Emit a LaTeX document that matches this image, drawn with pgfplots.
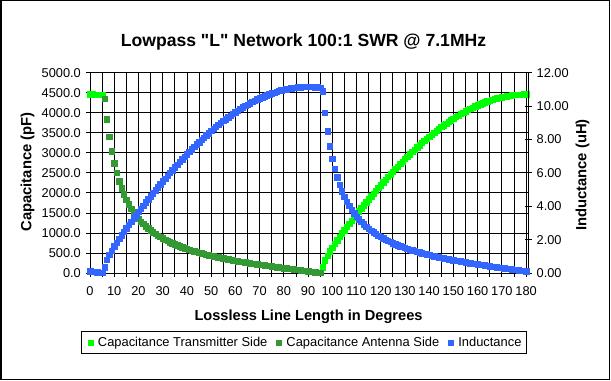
\documentclass[border=0pt]{standalone}
\usepackage{fontspec}
\setmainfont{Liberation Sans}
\newfontfamily\plainfont{Liberation Sans}
\usepackage{pgfplots}
\pgfplotsset{compat=1.18}
\definecolor{txgreen}{RGB}{0,255,0}
\definecolor{antgreen}{RGB}{51,153,51}
\definecolor{indblue}{RGB}{51,102,255}
\newcommand{\tickfont}{\fontsize{12.8bp}{14bp}\selectfont}
\begin{document}
\begin{tikzpicture}
\path[use as bounding box] (-90bp,-108bp) rectangle (521bp,273bp);
\draw[black, line width=1.5bp] (-89bp,-106.5bp) rectangle (519.5bp,272.5bp);
\begin{axis}[
  at={(0bp,0bp)}, anchor=south west,
  scale only axis, width=438bp, height=200.3bp,
  xmin=0, xmax=180.8, ymin=0, ymax=5000,
  xtick={0,10,...,180}, minor xtick={5,15,...,175},
  ytick={0,500,...,5000},
  grid=both,
  major grid style={black, line width=0.8bp},
  minor grid style={black, line width=0.8bp},
  axis line style={black, line width=0.8bp},
  every tick/.style={black, line width=0.8bp},
  tick align=outside, major tick length=4bp, minor tick length=4bp,
  xtick pos=bottom, ytick pos=left,
  /pgf/number format/assume math mode=true,
  /pgf/number format/1000 sep={},
  tick label style={font=\tickfont},
  yticklabel style={/pgf/number format/fixed, /pgf/number format/fixed zerofill, /pgf/number format/precision=1, inner sep=0pt, xshift=-5bp},
  xticklabel style={inner sep=0pt, yshift=-9.5bp},
]
\addplot[only marks, mark=square*, mark size=2.7bp, color=txgreen] coordinates {
(0,4460.6)(1,4459.8)(2,4457.8)(3,4454.3)(4,4449.6)(5,4443.4)
(96,143.5)(97,315.4)(98,436.2)(99,541.1)(100,638.0)(101,729.9)(102,818.4)(103,904.4)(104,988.6)(105,1071.1)(106,1152.4)(107,1232.4)(108,1311.5)(109,1389.7)(110,1467.0)(111,1542.8)(112,1618.4)(113,1693.4)(114,1767.5)(115,1840.9)(116,1913.5)(117,1985.3)(118,2056.4)(119,2126.8)(120,2196.3)(121,2265.1)(122,2333.0)(123,2400.2)(124,2466.6)(125,2532.1)(126,2596.8)(127,2660.6)(128,2723.5)(129,2785.6)(130,2846.6)(131,2906.9)(132,2966.2)(133,3024.5)(134,3081.8)(135,3138.2)(136,3193.6)(137,3248.0)(138,3301.4)(139,3353.7)(140,3405.0)(141,3455.2)(142,3504.2)(143,3552.3)(144,3599.2)(145,3645.0)(146,3689.6)(147,3733.1)(148,3775.4)(149,3816.6)(150,3856.6)(151,3895.4)(152,3933.0)(153,3969.3)(154,4004.4)(155,4038.4)(156,4070.8)(157,4102.4)(158,4132.4)(159,4161.2)(160,4188.8)(161,4215.2)(162,4240.0)(163,4263.6)(164,4286.0)(165,4307.2)(166,4326.8)(167,4345.2)(168,4362.4)(169,4378.0)(170,4392.4)(171,4405.2)(172,4416.8)(173,4427.2)(174,4436.0)(175,4443.6)(176,4449.6)(177,4454.4)(178,4458.0)(179,4460.0)(180,4460.8)
};
\addplot[only marks, mark=square*, mark size=2.7bp, color=antgreen] coordinates {
(6,4356.8)(7,3837.9)(8,3397.5)(9,3039.2)(10,2744.9)(11,2499.9)(12,2293.1)(13,2116.4)(14,1963.6)(15,1830.3)(16,1712.8)(17,1608.6)(18,1515.5)(19,1431.7)(20,1355.9)(21,1288.0)(22,1224.9)(23,1167.0)(24,1113.7)(25,1064.5)(26,1018.8)(27,976.1)(28,936.4)(29,899.3)(30,864.3)(31,831.5)(32,800.5)(33,771.2)(34,743.5)(35,717.2)(36,692.2)(37,668.4)(38,645.6)(39,623.9)(40,603.2)(41,583.2)(42,564.1)(43,545.7)(44,528.1)(45,511.1)(46,494.6)(47,478.7)(48,463.4)(49,448.6)(50,434.2)(51,420.2)(52,406.7)(53,393.5)(54,380.7)(55,368.2)(56,356.1)(57,344.2)(58,332.6)(59,321.3)(60,310.2)(61,299.4)(62,288.8)(63,278.4)(64,268.2)(65,258.2)(66,248.4)(67,238.7)(68,229.2)(69,219.8)(70,210.6)(71,201.5)(72,192.6)(73,183.7)(74,175.0)(75,166.3)(76,157.8)(77,149.3)(78,140.9)(79,132.5)(80,124.3)(81,116.2)(82,108.0)(83,99.9)(84,91.9)(85,84.0)(86,76.0)(87,68.2)(88,60.3)(89,52.4)(90,44.6)(91,36.8)(92,28.9)(93,21.2)(94,13.4)(95,5.6)
};
\end{axis}
\begin{axis}[
  at={(0bp,0bp)}, anchor=south west,
  scale only axis, width=438bp, height=200.3bp,
  xmin=0, xmax=180.8, ymin=0, ymax=12,
  axis x line=none, axis y line*=right,
  ytick={0,2,...,12},
  axis line style={black, line width=0.8bp},
  every tick/.style={black, line width=0.8bp},
  tick align=center, major tick length=7bp,
  /pgf/number format/assume math mode=true,
  tick label style={font=\tickfont},
  yticklabel style={/pgf/number format/fixed, /pgf/number format/fixed zerofill, /pgf/number format/precision=2, inner sep=0pt, xshift=5bp},
  legend columns=3,
  legend style={at={(0.4886,-0.2896)}, anchor=north, draw=black, line width=0.8bp,
    font=\fontsize{12.9bp}{14bp}\selectfont, inner xsep=0bp, inner ysep=3.5bp,
    /tikz/column sep=0pt,
    nodes={inner xsep=0bp, inner ysep=2.2bp, anchor=west}},
  legend cell align=left,
  legend image code/.code={\path (-6.3bp,0bp) (9.3bp,0bp); \draw[#1, mark size=2.6bp] plot coordinates {(2.5bp,0bp)};},
]
\addlegendimage{only marks, mark=square*, color=txgreen}
\addlegendentry{Capacitance Transmitter Side\kern 2.7bp}
\addlegendimage{only marks, mark=square*, color=antgreen}
\addlegendentry{Capacitance Antenna Side\kern 2.7bp}
\addplot[only marks, mark=square*, mark size=2.7bp, color=indblue] coordinates {
(0,0.112)(1,0.092)(2,0.073)(3,0.053)(4,0.033)(5,0.014)
(6,0.359)(7,0.789)(8,1.091)(9,1.353)(10,1.595)(11,1.825)(12,2.046)(13,2.261)(14,2.471)(15,2.678)(16,2.881)(17,3.081)(18,3.279)(19,3.474)(20,3.667)(21,3.857)(22,4.046)(23,4.234)(24,4.419)(25,4.602)(26,4.784)(27,4.963)(28,5.141)(29,5.317)(30,5.491)(31,5.663)(32,5.833)(33,6.001)(34,6.166)(35,6.330)(36,6.492)(37,6.651)(38,6.809)(39,6.964)(40,7.117)(41,7.267)(42,7.415)(43,7.561)(44,7.705)(45,7.846)(46,7.984)(47,8.120)(48,8.254)(49,8.384)(50,8.512)(51,8.638)(52,8.761)(53,8.881)(54,8.998)(55,9.112)(56,9.224)(57,9.333)(58,9.439)(59,9.542)(60,9.642)(61,9.739)(62,9.833)(63,9.923)(64,10.011)(65,10.096)(66,10.177)(67,10.256)(68,10.331)(69,10.403)(70,10.472)(71,10.538)(72,10.600)(73,10.659)(74,10.715)(75,10.768)(76,10.817)(77,10.863)(78,10.906)(79,10.945)(80,10.981)(81,11.013)(82,11.042)(83,11.068)(84,11.090)(85,11.109)(86,11.124)(87,11.136)(88,11.145)(89,11.150)(90,11.152)(91,11.150)(92,11.145)(93,11.136)(94,11.124)(95,11.109)
(96,10.892)(97,9.595)(98,8.494)(99,7.598)(100,6.862)(101,6.250)(102,5.733)(103,5.291)(104,4.909)(105,4.576)(106,4.282)(107,4.022)(108,3.789)(109,3.579)(110,3.390)(111,3.220)(112,3.062)(113,2.918)(114,2.784)(115,2.661)(116,2.547)(117,2.440)(118,2.341)(119,2.248)(120,2.161)(121,2.079)(122,2.001)(123,1.928)(124,1.859)(125,1.793)(126,1.731)(127,1.671)(128,1.614)(129,1.560)(130,1.508)(131,1.458)(132,1.410)(133,1.364)(134,1.320)(135,1.278)(136,1.237)(137,1.197)(138,1.159)(139,1.122)(140,1.086)(141,1.051)(142,1.017)(143,0.984)(144,0.952)(145,0.921)(146,0.890)(147,0.861)(148,0.832)(149,0.803)(150,0.776)(151,0.749)(152,0.722)(153,0.696)(154,0.671)(155,0.646)(156,0.621)(157,0.597)(158,0.573)(159,0.550)(160,0.527)(161,0.504)(162,0.482)(163,0.459)(164,0.438)(165,0.416)(166,0.395)(167,0.373)(168,0.352)(169,0.331)(170,0.311)(171,0.291)(172,0.270)(173,0.250)(174,0.230)(175,0.210)(176,0.190)(177,0.171)(178,0.151)(179,0.131)(180,0.112)
};
\addlegendentry{Inductance\kern 5bp}
\end{axis}
\node[anchor=base, font=\plainfont\bfseries\fontsize{17.6bp}{20bp}\selectfont] at (213.5bp,226bp) {Lowpass "L" Network 100:1 SWR @ 7.1MHz};
\node[anchor=base, font=\bfseries\fontsize{14.6bp}{16bp}\selectfont] at (218.5bp,-47.7bp) {Lossless Line Length in Degrees};
\node[rotate=90, font=\bfseries\fontsize{14.8bp}{16bp}\selectfont] at (-62.5bp,101bp) {Capacitance (pF)};
\node[rotate=90, font=\bfseries\fontsize{14.8bp}{16bp}\selectfont] at (492.5bp,98bp) {Inductance (uH)};
\end{tikzpicture}
\end{document}
